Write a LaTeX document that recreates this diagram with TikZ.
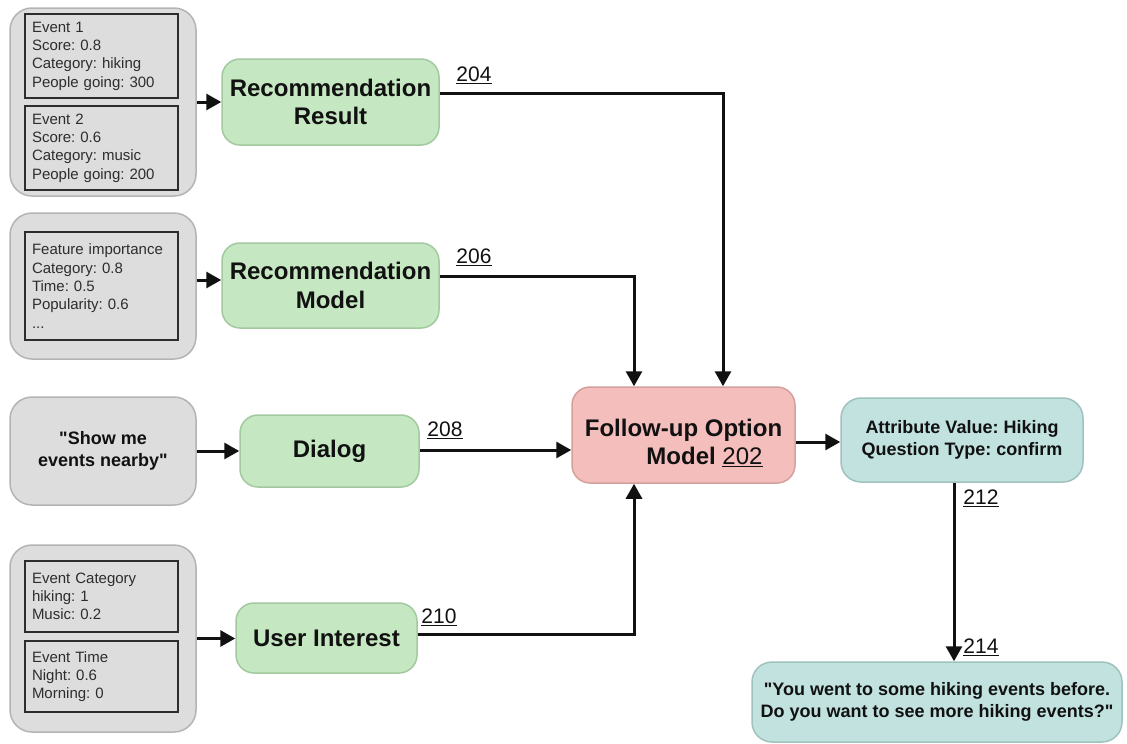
\documentclass[tikz,border=0pt]{standalone}
\usepackage{fontspec}
\setmainfont{Liberation Sans}
\usetikzlibrary{arrows.meta,calc}

\definecolor{grayfill}{RGB}{221,221,221}
\definecolor{grayedge}{RGB}{180,180,180}
\definecolor{greenfill}{RGB}{197,231,193}
\definecolor{greenedge}{RGB}{163,201,160}
\definecolor{pinkfill}{RGB}{244,190,188}
\definecolor{pinkedge}{RGB}{211,160,158}
\definecolor{tealfill}{RGB}{193,226,223}
\definecolor{tealedge}{RGB}{159,194,191}
\definecolor{ink}{RGB}{17,17,17}
\definecolor{inkdark}{RGB}{45,45,45}

\newcommand\smalltxt{\fontsize{15}{18.3}\selectfont}
\newcommand\bigtxt{\fontsize{24}{28.5}\selectfont\bfseries}
\newcommand\medtxt{\fontsize{18}{22}\selectfont\bfseries}
\newcommand\numtxt{\fontsize{21}{24}\selectfont}
\newcommand\dq{\textquotedbl}
\frenchspacing

\begin{document}
\begin{tikzpicture}[x=1pt,y=-1pt,
  outer/.style={draw=grayedge, fill=grayfill, line width=1.5pt,
    rounded corners=22pt, minimum width=186pt, inner sep=0pt},
  inbox/.style={draw=inkdark, line width=2.5pt, fill=grayfill,
    text width=139pt, inner xsep=7pt, inner ysep=0pt, align=left,
    font=\smalltxt, text=inkdark},
  greenbox/.style={draw=greenedge, fill=greenfill, line width=1.5pt,
    rounded corners=18pt, inner sep=0pt, align=center, font=\bigtxt, text=ink},
  pinkbox/.style={draw=pinkedge, fill=pinkfill, line width=1.5pt,
    rounded corners=18pt, inner sep=0pt},
  tealbox/.style={draw=tealedge, fill=tealfill, line width=1.5pt,
    rounded corners=20pt, inner sep=0pt, align=center, font=\medtxt, text=ink},
  conn/.style={draw=ink, line width=3pt,
    -{Triangle[length=15pt,width=16pt]}},
  num/.style={font=\numtxt, text=ink, inner sep=0pt}
]
\useasboundingbox (0,0) rectangle (1127,744);
\fill[white] (0,0) rectangle (1127,744);

% recommendation result inputs
\node[outer, minimum height=188pt] (g1) at (103,102) {};
\node[inbox, minimum height=84pt] (g1a) at (101.5,56)
  {Event 1\\Score: 0.8\\Category: hiking\\People going: 300};
\node[inbox, minimum height=84pt] (g1b) at (101.5,148)
  {Event 2\\Score: 0.6\\Category: music\\People going: 200};
\node[greenbox, minimum width=217pt, minimum height=86pt] (rr) at (330.5,102)
  {Recommendation\\Result};

% recommendation model inputs
\node[outer, minimum height=146pt] (g2) at (103,286) {};
\node[inbox, minimum height=108pt] (g2a) at (101.5,286)
  {Feature importance\\Category: 0.8\\Time: 0.5\\Popularity: 0.6\\...};
\node[greenbox, minimum width=217pt, minimum height=85pt] (rm) at (330.5,285.5)
  {Recommendation\\Model};

% dialog
\node[outer, minimum height=108pt, font=\medtxt, align=center, text=ink] (g3) at (103,451)
  {\dq Show me\\events nearby\dq};
\node[greenbox, minimum width=179pt, minimum height=72pt] (dlg) at (329.5,451) {Dialog};

% user interest
\node[outer, minimum height=187pt] (g4) at (103,638.5) {};
\node[inbox, minimum height=71pt] (g4a) at (101.5,596.5)
  {Event Category\\hiking: 1\\Music: 0.2};
\node[inbox, minimum height=71pt] (g4b) at (101.5,676.5)
  {Event Time\\Night: 0.6\\Morning: 0};
\node[greenbox, minimum width=181pt, minimum height=70pt] (ui) at (326.5,638) {User Interest};

% follow-up option model
\node[pinkbox, minimum width=223pt, minimum height=96pt] (fo) at (683.5,435) {};
\node[font=\bigtxt, align=center, text=ink, inner sep=0pt] (fotxt) at (683.5,443)
  {Follow-up Option\\\hspace*{42pt}Model {\mdseries\underline{202}}};

% outputs
\node[tealbox, minimum width=242pt, minimum height=84pt] (av) at (962,440)
  {Attribute Value: Hiking\\Question Type: confirm};
\node[tealbox, minimum width=370pt, minimum height=80pt] (q) at (937,702)
  {\dq You went to some hiking events before.\\Do you want to see more hiking events?\dq};

% connectors
\draw[conn] (g1.east) -- (rr.west);
\draw[conn] ([yshift=6pt]g2.east) -- ([yshift=6pt]g2.east -| rm.west);
\draw[conn] (g3.east) -- (dlg.west);
\draw[conn] (g4.east) -- (g4.east -| ui.west);

\draw[conn] ([yshift=9pt]rr.east) -| ([xshift=39.5pt]fo.north);
\draw[conn] ([yshift=9.5pt]rm.east) -| ([xshift=-49.5pt]fo.north);
\draw[conn] ([yshift=1pt]dlg.east) -- ([yshift=1pt]dlg.east -| fo.west);
\draw[conn] ([yshift=4pt]ui.east) -| ([xshift=-49.5pt]fo.south);
\draw[conn] ([yshift=-7pt]fo.east) -- ([yshift=-7pt]fo.east -| av.west);
\draw[conn] ([xshift=-8pt]av.south) -- ([xshift=-8pt]av.south |- q.north);

% reference numerals
\node[num] (n204) at (474,75) {\underline{204}};
\node[num] (n206) at (474,257) {\underline{206}};
\node[num] (n208) at (445,430) {\underline{208}};
\node[num] (n210) at (439,617) {\underline{210}};
\node[num] (n212) at (981,498) {\underline{212}};
\node[num] (n214) at (981,647) {\underline{214}};
\end{tikzpicture}
\end{document}
